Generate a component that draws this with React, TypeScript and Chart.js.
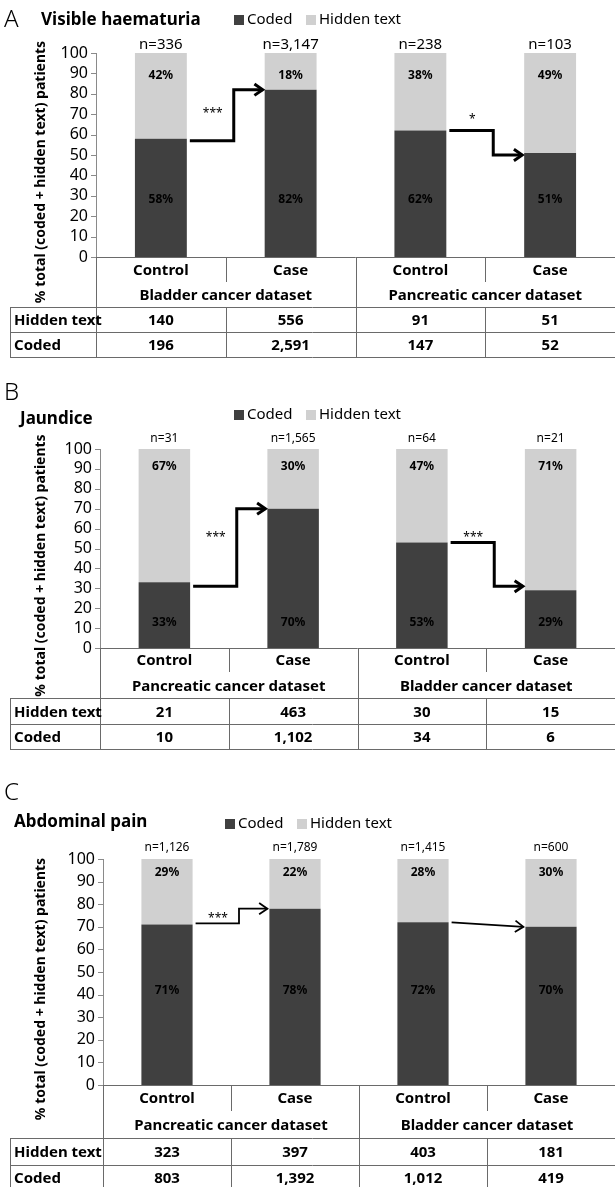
import React, { useEffect, useRef } from "react";
import { Chart, registerables } from "chart.js";
Chart.register(...registerables);

const categories = ["Control", "Case", "Control", "Case"];

const groupsA = ["Bladder cancer dataset", "Pancreatic cancer dataset"];
const hiddenA = [140, 556, 91, 51];
const codedA = [196, 2591, 147, 52];
const codedPctA = [58, 82, 62, 51];
const hiddenPctA = [42, 18, 38, 49];

const groupsB = ["Pancreatic cancer dataset", "Bladder cancer dataset"];
const hiddenB = [21, 463, 30, 15];
const codedB = [10, 1102, 34, 6];
const codedPctB = [33, 70, 53, 29];
const hiddenPctB = [67, 30, 47, 71];

const groupsC = ["Pancreatic cancer dataset", "Bladder cancer dataset"];
const hiddenC = [323, 397, 403, 181];
const codedC = [803, 1392, 1012, 419];
const codedPctC = [71, 78, 72, 70];
const hiddenPctC = [29, 22, 28, 30];

const yTicks = [0, 10, 20, 30, 40, 50, 60, 70, 80, 90, 100];

const FONT = "'Noto Sans', sans-serif";
const DARK = "#404040";
const LIGHT = "#d0d0d0";
const W = 615;

type Arrow = { from: number; to: number; y1: number; y2: number; sig: string; sigY: number; straight?: boolean };

const panels = [
  {
    letter: "A", title: "Visible haematuria", groups: groupsA, hidden: hiddenA, coded: codedA,
    codedPct: codedPctA, hiddenPct: hiddenPctA,
    top: 0, bottom: 362, plotTop: 53, plotBottom: 257, axisX: 96,
    letterY: 20, letterX: 4, titleX: 41, titleY: 20, legendY: 20, legendX: 234,
    nY: 45, nSize: 15, hidLabelY: 89, codLabelY: 28,
    shortEnd: 282, headBottom: 307, rowMid: 332, tableBottom: 357,
    arrows: [
      { from: 0, to: 1, y1: 57, y2: 82, sig: "***", sigY: 72 },
      { from: 2, to: 3, y1: 62, y2: 50, sig: "*", sigY: 69 },
    ] as Arrow[], arrowWidth: 3,
  },
  {
    letter: "B", title: "Jaundice", groups: groupsB, hidden: hiddenB, coded: codedB,
    codedPct: codedPctB, hiddenPct: hiddenPctB,
    top: 380, bottom: 755, plotTop: 449, plotBottom: 648, axisX: 100,
    letterY: 393, letterX: 4, titleX: 20, titleY: 419, legendY: 415, legendX: 234,
    nY: 439, nSize: 12, hidLabelY: 91, codLabelY: 13,
    shortEnd: 672, headBottom: 698, rowMid: 724, tableBottom: 749,
    arrows: [
      { from: 0, to: 1, y1: 31, y2: 70, sig: "***", sigY: 57 },
      { from: 2, to: 3, y1: 53, y2: 31, sig: "***", sigY: 57 },
    ] as Arrow[], arrowWidth: 3,
  },
  {
    letter: "C", title: "Abdominal pain", groups: groupsC, hidden: hiddenC, coded: codedC,
    codedPct: codedPctC, hiddenPct: hiddenPctC,
    top: 780, bottom: 1187, plotTop: 859, plotBottom: 1085, axisX: 103,
    letterY: 793, letterX: 4, titleX: 14, titleY: 822, legendY: 824, legendX: 225,
    nY: 848, nSize: 12, hidLabelY: 94, codLabelY: 42,
    shortEnd: 1111, headBottom: 1138, rowMid: 1165, tableBottom: 1190,
    arrows: [
      { from: 0, to: 1, y1: 71.5, y2: 78, sig: "***", sigY: 75 },
      { from: 2, to: 3, y1: 72, y2: 70, sig: "", sigY: 0, straight: true },
    ] as Arrow[], arrowWidth: 1.8,
  },
];

type P = typeof panels[number];

function Panel({ p }: { p: P }) {
  const ref = useRef<HTMLCanvasElement>(null);
  useEffect(() => {
    const H = p.bottom - p.top;
    const T = (y: number) => y - p.top;
    const plugin = {
      id: "deco",
      afterDraw(chart: any) {
        const ctx = chart.ctx as CanvasRenderingContext2D;
        const xs = chart.scales.x;
        const ys = chart.scales.y;
        const meta = chart.getDatasetMeta(0);
        const bw = meta.data[0].width;
        const cx = (i: number) => xs.getPixelForValue(i);
        const cy = (v: number) => ys.getPixelForValue(v);
        const yB = T(p.plotBottom);
        const yT = T(p.plotTop);
        const ax = p.axisX;
        const catW = (W - ax) / 4;
        ctx.save();
        // letter, title, legend
        ctx.fillStyle = "#000";
        ctx.textBaseline = "middle";
        ctx.textAlign = "left";
        ctx.font = `300 24px ${FONT}`;
        ctx.fillText(p.letter, p.letterX, T(p.letterY));
        ctx.font = `bold 17px ${FONT}`;
        ctx.fillText(p.title, p.titleX, T(p.titleY));
        ctx.font = `15px ${FONT}`;
        ctx.fillStyle = DARK;
        ctx.fillRect(p.legendX, T(p.legendY) - 5, 10, 10);
        ctx.fillStyle = "#000";
        ctx.fillText("Coded", p.legendX + 13, T(p.legendY));
        ctx.fillStyle = LIGHT;
        ctx.fillRect(p.legendX + 72, T(p.legendY) - 5, 10, 10);
        ctx.fillStyle = "#000";
        ctx.fillText("Hidden text", p.legendX + 85, T(p.legendY));
        // y axis
        ctx.strokeStyle = "#8a8a8a";
        ctx.lineWidth = 1;
        ctx.beginPath();
        ctx.moveTo(ax + 0.5, yT);
        ctx.lineTo(ax + 0.5, yB);
        yTicks.forEach((t) => {
          const y = Math.round(cy(t)) + 0.5;
          ctx.moveTo(ax - 5, y);
          ctx.lineTo(ax, y);
        });
        ctx.stroke();
        ctx.font = `16px ${FONT}`;
        ctx.textAlign = "right";
        yTicks.forEach((t) => ctx.fillText(String(t), ax - 8, cy(t)));
        ctx.save();
        ctx.translate(41, (yT + yB) / 2 + 17);
        ctx.rotate(-Math.PI / 2);
        ctx.textAlign = "center";
        ctx.font = `bold 14px ${FONT}`;
        ctx.fillText("% total (coded + hidden text) patients", 0, 0);
        ctx.restore();
        // n labels and percent labels
        ctx.textAlign = "center";
        for (let i = 0; i < 4; i++) {
          const n = p.hidden[i] + p.coded[i];
          ctx.font = `${p.nSize}px ${FONT}`;
          ctx.fillText("n=" + n.toLocaleString("en-US"), cx(i), T(p.nY));
          ctx.font = `bold 12px ${FONT}`;
          ctx.fillText(p.hiddenPct[i] + "%", cx(i), cy(p.hidLabelY));
          ctx.fillText(p.codedPct[i] + "%", cx(i), cy(p.codLabelY));
        }
        // arrows
        ctx.strokeStyle = "#000";
        ctx.lineWidth = p.arrowWidth;
        ctx.lineJoin = "miter";
        p.arrows.forEach((a) => {
          const x0 = cx(a.from) + bw / 2 + 3;
          const x1 = cx(a.to) - bw / 2 - 2;
          const y0 = cy(a.y1);
          const y1 = cy(a.y2);
          const mx = (cx(a.from) + cx(a.to)) / 2 + 8;
          ctx.beginPath();
          ctx.moveTo(x0, y0);
          let ang = 0;
          if (a.straight) {
            ctx.lineTo(x1, y1);
            ang = Math.atan2(y1 - y0, x1 - x0);
          } else {
            ctx.lineTo(mx, y0);
            ctx.lineTo(mx, y1);
            ctx.lineTo(x1, y1);
          }
          ctx.stroke();
          const hl = 10;
          ctx.beginPath();
          ctx.moveTo(x1 - hl * Math.cos(ang - 0.6), y1 - hl * Math.sin(ang - 0.6));
          ctx.lineTo(x1, y1);
          ctx.lineTo(x1 - hl * Math.cos(ang + 0.6), y1 - hl * Math.sin(ang + 0.6));
          ctx.stroke();
          if (a.sig) {
            ctx.font = `12px ${FONT}`;
            ctx.fillStyle = "#000";
            ctx.fillText(a.sig, (cx(a.from) + cx(a.to)) / 2 - 13, cy(a.sigY) + 3);
          }
        });
        // table
        ctx.strokeStyle = "#6a6a6a";
        ctx.lineWidth = 1;
        const hb = T(p.headBottom) + 0.5;
        const rm = T(p.rowMid) + 0.5;
        const tb = T(p.tableBottom) + 0.5;
        const se = T(p.shortEnd);
        ctx.beginPath();
        ctx.moveTo(ax, yB + 0.5); ctx.lineTo(W, yB + 0.5);
        [hb, rm, tb].forEach((y) => { ctx.moveTo(10, y); ctx.lineTo(W, y); });
        ctx.moveTo(10.5, hb); ctx.lineTo(10.5, tb);
        ctx.moveTo(ax + 0.5, yB); ctx.lineTo(ax + 0.5, tb);
        const c2 = Math.round(ax + 2 * catW) + 0.5;
        ctx.moveTo(c2, yB); ctx.lineTo(c2, tb);
        [1, 3].forEach((k) => {
          const x = Math.round(ax + k * catW) + 0.5;
          ctx.moveTo(x, yB); ctx.lineTo(x, se);
          ctx.moveTo(x, hb); ctx.lineTo(x, tb);
        });
        ctx.stroke();
        ctx.fillStyle = "#000";
        ctx.font = `bold 15px ${FONT}`;
        ctx.textAlign = "center";
        const r1 = (yB + se) / 2 + 1;
        const r2 = (se + hb) / 2 + 1;
        for (let i = 0; i < 4; i++) {
          const x = ax + (i + 0.5) * catW;
          ctx.fillText(categories[i], x, r1);
          ctx.fillText(p.hidden[i].toLocaleString("en-US"), x, (hb + rm) / 2 + 1);
          ctx.fillText(p.coded[i].toLocaleString("en-US"), x, (rm + tb) / 2 + 1);
        }
        p.groups.forEach((g, k) => ctx.fillText(g, ax + (2 * k + 1) * catW, r2));
        ctx.textAlign = "left";
        ctx.fillText("Hidden text", 14, (hb + rm) / 2 + 1);
        ctx.fillText("Coded", 14, (rm + tb) / 2 + 1);
        ctx.restore();
      },
    };
    const chart = new Chart(ref.current!, {
      type: "bar",
      data: {
        labels: categories,
        datasets: [
          { label: "Coded", data: p.codedPct, backgroundColor: DARK },
          { label: "Hidden text", data: p.hiddenPct, backgroundColor: LIGHT },
        ],
      },
      options: {
        responsive: false,
        animation: false,
        devicePixelRatio: 1,
        layout: { padding: { left: p.axisX, right: 0, top: p.plotTop - p.top, bottom: H - (p.plotBottom - p.top) } },
        datasets: { bar: { barPercentage: 0.4, categoryPercentage: 1 } },
        scales: {
          x: { stacked: true, display: false },
          y: { stacked: true, display: false, min: 0, max: 100 },
        },
        plugins: { legend: { display: false }, tooltip: { enabled: false } },
      },
      plugins: [plugin],
    });
    return () => chart.destroy();
  }, [p]);
  return (
    <canvas
      ref={ref}
      width={W}
      height={p.bottom - p.top}
      style={{ position: "absolute", left: 0, top: p.top, width: W, height: p.bottom - p.top }}
    />
  );
}

export default function App() {
  return (
    <div style={{ position: "absolute", left: 0, top: 0, width: W, height: 1187, background: "#fff" }}>
      {panels.map((p) => (
        <Panel key={p.letter} p={p} />
      ))}
    </div>
  );
}
